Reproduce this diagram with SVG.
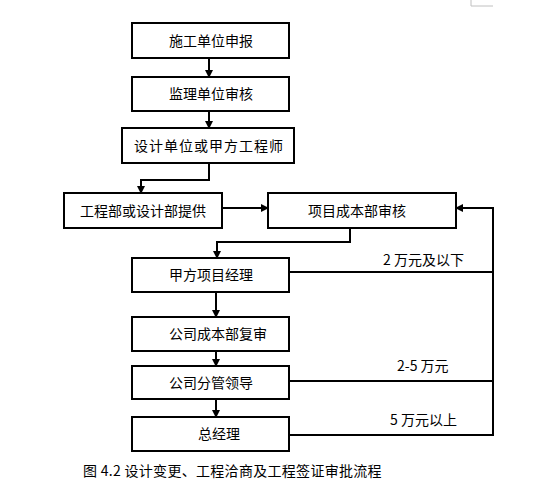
<svg xmlns="http://www.w3.org/2000/svg" width="535" height="488" viewBox="0 0 535 488">
<style>
.box{fill:#fff;stroke:#000;stroke-width:2}
.ln{fill:none;stroke:#000;stroke-width:2}
text{font-family:"Noto Sans CJK SC","DejaVu Sans",sans-serif;font-size:14px;fill:#000}
.lbl{font-size:14px}
</style>
<defs>
<marker id="ah" viewBox="0 0 8 8" refX="7" refY="4" markerWidth="4" markerHeight="4" orient="auto" markerUnits="strokeWidth">
<path d="M0,0 L8,4 L0,8 Z" fill="#000"/>
</marker>
</defs>
<path d="M471,0 V6 H493" fill="none" stroke="#c0c0c0" stroke-width="1"/>
<g id="connectors">
<path class="ln" d="M209,58 V77" marker-end="url(#ah)"/>
<path class="ln" d="M209,111 V128" marker-end="url(#ah)"/>
<path class="ln" d="M209,163 V180 H141 V193" marker-end="url(#ah)"/>
<path class="ln" d="M222,208 H268" marker-end="url(#ah)"/>
<path class="ln" d="M350,228 V242 H217 V258" marker-end="url(#ah)"/>
<path class="ln" d="M216,292 V317" marker-end="url(#ah)"/>
<path class="ln" d="M216,343 V366" marker-end="url(#ah)"/>
<path class="ln" d="M216,390 V417" marker-end="url(#ah)"/>
<path class="ln" d="M289,435 H493 V208 H456" marker-end="url(#ah)"/>
<path class="ln" d="M289,272 H493"/>
<path class="ln" d="M289,381 H493"/>
<text class="lbl" x="383" y="265">2 万元及以下</text>
<text class="lbl" x="397" y="371">2-5 万元</text>
<text class="lbl" x="390" y="425">5 万元以上</text>
</g>
<g id="n1"><rect class="box" x="132" y="23" width="157" height="35"/><text x="211" y="46" text-anchor="middle">施工单位申报</text></g>
<g id="n2"><rect class="box" x="132" y="77" width="157" height="34"/><text x="211" y="99" text-anchor="middle">监理单位审核</text></g>
<g id="n3"><rect class="box" x="122" y="128" width="172" height="35"/><text x="209" y="151" text-anchor="middle" letter-spacing="1">设计单位或甲方工程师</text></g>
<g id="n4"><rect class="box" x="64" y="193" width="158" height="35"/><text x="143" y="216" text-anchor="middle">工程部或设计部提供</text></g>
<g id="n5"><rect class="box" x="268" y="193" width="188" height="35"/><text x="357" y="216" text-anchor="middle">项目成本部审核</text></g>
<g id="n6"><rect class="box" x="132" y="258" width="157" height="34"/><text x="211" y="280" text-anchor="middle">甲方项目经理</text></g>
<g id="n7"><rect class="box" x="132" y="317" width="157" height="34"/><text x="218" y="339" text-anchor="middle">公司成本部复审</text></g>
<g id="n8"><rect class="box" x="132" y="366" width="157" height="33"/><text x="211" y="388" text-anchor="middle">公司分管领导</text></g>
<g id="n9"><rect class="box" x="132" y="417" width="157" height="34"/><text x="219" y="439" text-anchor="middle">总经理</text></g>
<text x="83" y="476" font-size="14" letter-spacing="0.3">图 4.2 设计变更、工程洽商及工程签证审批流程</text>
</svg>
